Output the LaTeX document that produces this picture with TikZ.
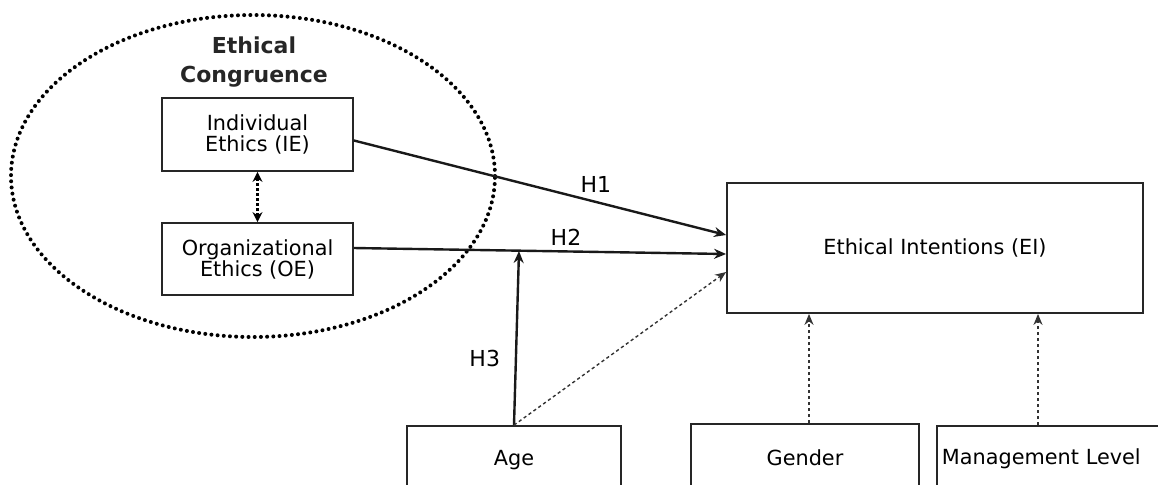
\documentclass[tikz,border=0pt]{standalone}
\usepackage{fontspec}
\setmainfont{DejaVu Sans}
\usetikzlibrary{arrows.meta}
\begin{document}
\begin{tikzpicture}[x=0.5pt,y=-0.5pt,
  box/.style={draw=black!85, line width=0.9pt, align=center, inner sep=0pt,
    font=\fontsize{10.4}{10.5}\selectfont},
  solidarrow/.style={draw=black!90, line width=1.2pt, -{Stealth[length=6pt,width=5pt]}},
  dotarrow/.style={draw=black!80, line width=0.7pt, dash pattern=on 1.6pt off 1.4pt,
    -{Stealth[length=5.5pt,width=4.5pt]}},
  hlabel/.style={font=\fontsize{11}{11}\selectfont}]
\useasboundingbox (0,0) rectangle (1158,484);
\clip (0,0) rectangle (1158,484);

% dotted ellipse grouping the two ethics constructs
\draw[line width=2pt, line cap=round, dash pattern=on 0pt off 3.1pt]
  (253,176) ellipse [x radius=121pt, y radius=80.5pt];
\node[font=\bfseries\fontsize{11}{14.5}\selectfont, align=center, text=black!85]
  (title) at (254,62) {Ethical\\Congruence};

% construct boxes
\node[box, minimum width=95.5pt, minimum height=36.5pt] (IE) at (257.5,134.5)
  {Individual\\Ethics (IE)};
\node[box, minimum width=95.5pt, minimum height=36pt] (OE) at (257.5,259)
  {Organizational\\Ethics (OE)};
\node[box, minimum width=208pt, minimum height=65pt] (EI) at (935,248)
  {Ethical Intentions (EI)};

% control variables (boxes run past the lower edge)
\node[box, minimum width=107pt, minimum height=34pt] (Age) at (514,460) {Age};
\node[box, minimum width=114pt, minimum height=34pt] (Gender) at (805,458) {Gender};
\node[box, anchor=north west, align=left, text width=115pt, inner xsep=2.5pt,
  minimum height=33pt] (ML) at (936,425) {Management Level};

% link between individual and organizational ethics
\draw[line width=1.4pt, dash pattern=on 1.5pt off 1pt,
  {Stealth[length=5pt,width=5pt]}-{Stealth[length=5pt,width=5pt]}]
  (IE.south) -- (OE.south |- OE.north);

% hypothesised paths
\draw[solidarrow] ([yshift=-3pt]IE.east) -- node[hlabel, above=1pt, pos=0.65] (H1) {H1}
  ([yshift=6.5pt]EI.west);
\draw[solidarrow] ([yshift=5.5pt]OE.east) -- ([yshift=-3pt]EI.west);
\node[hlabel] (H2) at (566,237) {H2};
\coordinate (mod) at (519,251);
\draw[solidarrow] (Age.north) -- node[hlabel, left=4pt, pos=0.38] (H3) {H3} (mod);

% control paths
\draw[dotarrow] (Age.north) -- ([yshift=-12pt]EI.west);
\draw[dotarrow] ([xshift=2pt]Gender.north) -- ([xshift=2pt]Gender.north |- EI.south);
\draw[dotarrow] ([xshift=51pt]ML.north west) -- ([xshift=51pt]ML.north west |- EI.south);
\end{tikzpicture}
\end{document}
